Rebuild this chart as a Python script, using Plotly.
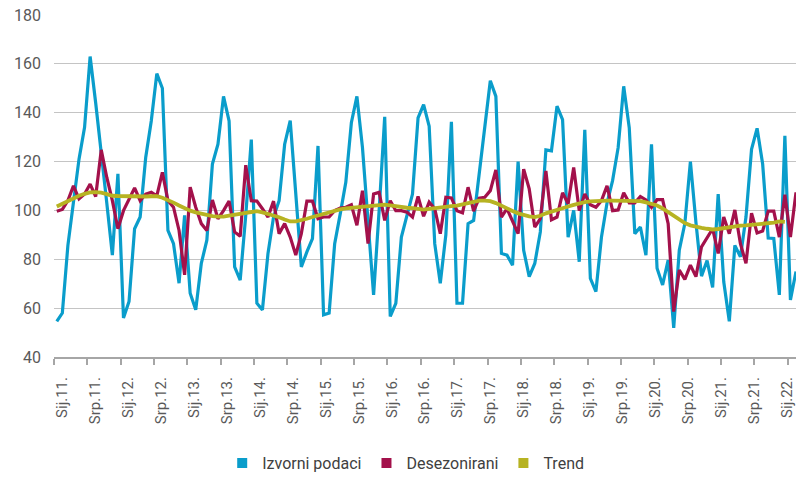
import plotly.graph_objects as go

# Monthly data, Sij.11. (Jan 2011) .. Velj.22. (Feb 2022)
month_index = list(range(134))

izvorni = [54.6, 58, 85.7, 104, 121, 134, 163, 144, 122, 103, 81.7, 115,
           56, 62.7, 92.5, 97.3, 121.7, 136.6, 156, 150, 91.8, 86.4, 70.2, 98,
           66.1, 59.3, 78.3, 87.8, 119, 127.1, 146.7, 136.6, 76.9, 71.5, 98, 129,
           62, 59.3, 82.4, 97.3, 104, 127.1, 136.8, 108, 76.9, 83, 88.5, 126.4,
           57.3, 58, 86.4, 98.6, 111.5, 135.9, 146.7, 125.7, 97.3, 65.4, 100, 138.3,
           56.6, 62, 89.1, 98.6, 106.7, 137.9, 143.3, 134.5, 86.4, 70.2, 90, 136.3,
           62, 62, 94.6, 95.9, 114.2, 133.8, 153.1, 146.7, 82.4, 81.7, 77.6, 120,
           83.7, 72.9, 78.3, 91.2, 124.8, 124.4, 142.7, 137.2, 89.1, 100, 79, 133,
           72.2, 66.8, 89.1, 103, 112.2, 125.7, 150.8, 133.8, 90.5, 93.2, 81.7, 127.1,
           76.3, 69.5, 79.7, 51.9, 83.7, 94.6, 120, 95, 73.1, 79.5, 68.5, 106.7,
           70.8, 54.6, 85.7, 81, 97.3, 125, 133.6, 119, 88.7, 88.5, 65.4, 130.5,
           63.4, 75]

desezonirani = [99.7, 100.4, 104, 110.1, 104.7, 106.7, 110.8, 105.7, 124.8, 113.5, 104, 92.5,
                99.9, 104.7, 109.2, 104, 106.7, 107.4, 106, 115.6, 104, 101.3, 91.8, 73.6,
                109.5, 101.3, 94.6, 91.8, 104.3, 96.6, 99.9, 103.8, 91.2, 89.4, 118.5, 104,
                103.8, 100.7, 97.3, 103.8, 90.5, 94.6, 89.1, 81.7, 90.5, 103.8, 103.8, 96.6,
                97.3, 97.3, 99.9, 101, 101.3, 102.3, 93.9, 108.1, 86.4, 106.7, 107.4, 95.9,
                104, 99.9, 99.9, 99.3, 97.3, 105.7, 97.6, 103.4, 100.7, 90.5, 105.4, 105.1,
                99.9, 99, 109.5, 99.7, 105, 105.4, 108.1, 116.6, 97.3, 100.7, 95.3, 90.5,
                116.9, 108.8, 93.2, 96.6, 116.2, 96.2, 97.3, 107.2, 102.7, 117.6, 99.9, 106.7,
                102.3, 101.3, 104, 110.1, 99.9, 100.2, 107.2, 103.1, 103.1, 105.7, 104.3, 101.3,
                104.4, 104.4, 94.6, 58.6, 75.6, 71.8, 77.6, 72.9, 85.1, 89.1, 92.5, 82.4,
                97.3, 90.5, 100.2, 86.4, 78.3, 98.9, 90.8, 91.6, 99.7, 99.7, 89.1, 106.4,
                89.1, 107.4]

trend = [101.6, 102.8, 104, 105, 106, 106.8, 107.4, 107.5, 107.3, 106.7, 106, 105.9,
         105.8, 105.8, 105.8, 105.8, 105.7, 105.8, 105.8, 105.2, 104.3, 103.2, 102, 100.9,
         99.9, 99.2, 98.6, 98.1, 97.7, 97.5, 97.5, 97.9, 98.3, 98.6, 99, 99.4,
         99.7, 99.2, 98.6, 98, 97.2, 96.3, 95.5, 95.5, 95.9, 96.6, 97.3, 98,
         98.7, 99.4, 99.9, 100.4, 100.8, 101, 101.2, 101.4, 101.6, 101.8, 102.1, 102.4,
         102.1, 101.7, 101.3, 101.1, 100.9, 100.7, 100.3, 100.6, 101, 101.3, 101.5, 101.8,
         102, 102.6, 103.2, 103.8, 104, 104, 103.8, 103, 101.8, 100.7, 99.8, 98.8,
         98, 97.6, 97.3, 97.8, 98.8, 99.6, 100.3, 101, 101.6, 102.3, 102.9, 103.4,
         103.7, 103.9, 104, 104, 104, 104, 104, 103.9, 103.9, 103.8, 103.3, 102.7,
         102, 100.8, 99.3, 97.6, 95.9, 94.8, 93.9, 93.3, 92.9, 92.5, 92.2, 92.4,
         92.8, 93.2, 93.6, 93.8, 93.9, 94.1, 94.3, 94.4, 94.6, 95, 95.5, 95.3,
         None, None]

tick_labels = ["Sij.11.", "Srp.11.", "Sij.12.", "Srp.12.", "Sij.13.", "Srp.13.",
               "Sij.14.", "Srp.14.", "Sij.15.", "Srp.15.", "Sij.16.", "Srp.16.",
               "Sij.17.", "Srp.17.", "Sij.18.", "Srp.18.", "Sij.19.", "Srp.19.",
               "Sij.20.", "Srp.20.", "Sij.21.", "Srp.21.", "Sij.22."]

series_names = ["Izvorni podaci", "Desezonirani", "Trend"]
colors = ["#0a9dcb", "#a3114b", "#b7b322"]
widths = [3.2, 3.2, 3.8]

fig = go.Figure()
for name, ys, col, w in zip(series_names, [izvorni, desezonirani, trend], colors, widths):
    fig.add_trace(go.Scatter(x=month_index, y=ys, mode="lines", name=name,
                             line=dict(color=col, width=w), showlegend=False,
                             connectgaps=False, hoverinfo="skip", cliponaxis=False))
for name, col in zip(series_names, colors):
    fig.add_trace(go.Scatter(x=[None], y=[None], mode="markers", name=name,
                             marker=dict(symbol="square", size=10, color=col)))

label_pos = [0.95 + 5.93 * k for k in range(len(tick_labels))]
boundary_pos = [6 * k - 0.5 for k in range(len(tick_labels))]

fig.update_layout(
    width=796, height=480,
    margin=dict(l=54, r=0, t=15, b=119),
    paper_bgcolor="white", plot_bgcolor="white",
    font=dict(family="Roboto, sans-serif", color="#595959", size=14),
    legend=dict(orientation="h", x=0.474, xanchor="center", y=-0.31, yanchor="middle",
                font=dict(size=16, color="#404040"), itemwidth=30, tracegroupgap=0,
                bgcolor="rgba(0,0,0,0)"),
    showlegend=True,
)
fig.update_xaxes(
    range=[-0.5, 133.0], tickmode="array", tickvals=label_pos, ticktext=tick_labels,
    tickangle=-90, ticks="", showgrid=False, zeroline=False,
    showline=True, linecolor="#a6a6a6", linewidth=2,
    ticklabelstandoff=12, ticklabeloverflow="allow",
    tickfont=dict(size=15, color="#595959"),
    minor=dict(tickmode="array", tickvals=boundary_pos, ticks="outside",
               ticklen=6, tickwidth=2, tickcolor="#a6a6a6", showgrid=False),
)
fig.update_yaxes(
    range=[40, 180], dtick=20, tick0=40, showgrid=True, gridcolor="#c4c4c4",
    gridwidth=1.3, zeroline=False, showline=False, ticks="",
    ticklabelstandoff=12, tickfont=dict(size=16, color="#595959"),
)

fig.write_html("out.html", config={"displayModeBar": False},
               post_script="document.body.style.margin='0';document.body.style.overflow='hidden';")
